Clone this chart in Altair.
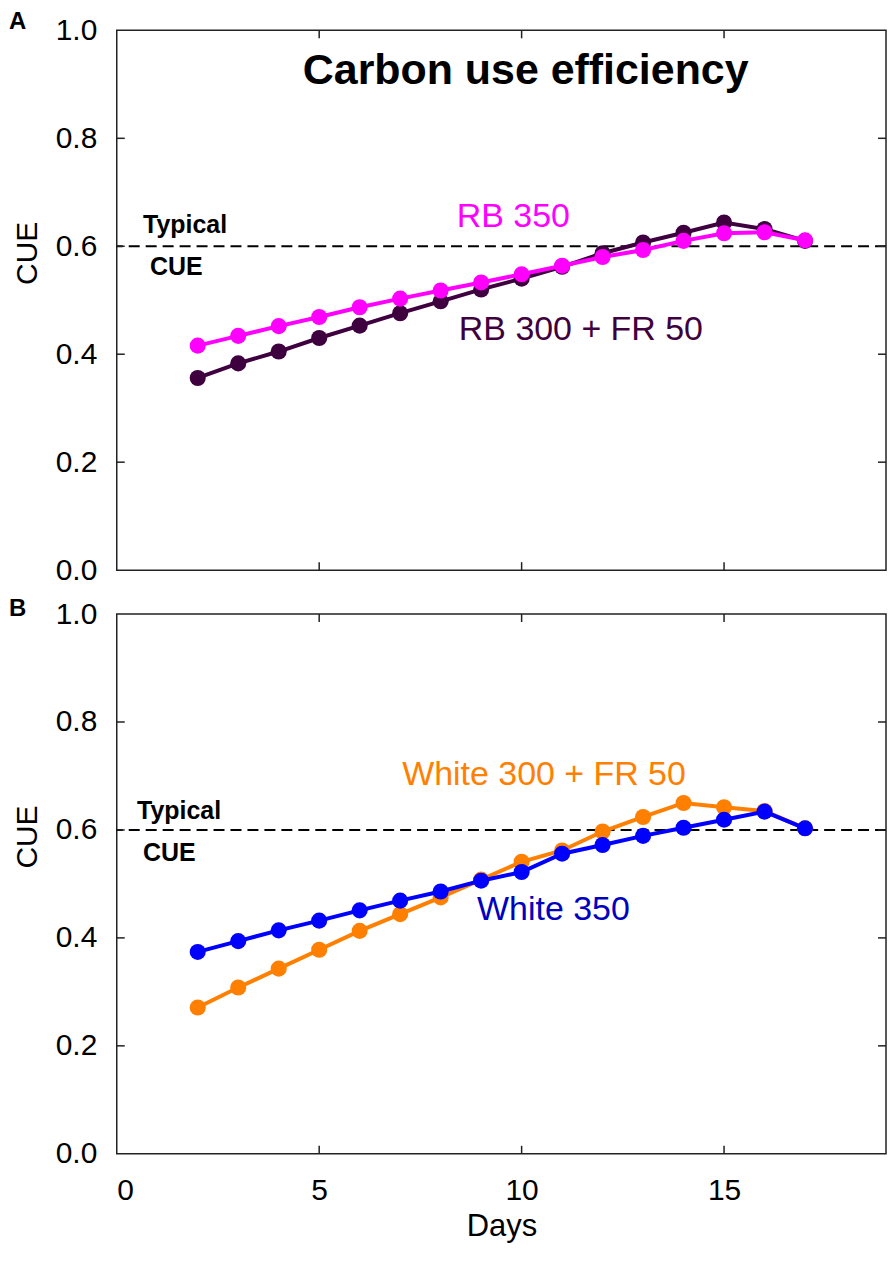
import altair as alt
import pandas as pd

# ---------------- data ----------------
days = list(range(2, 18))
rb350 = [0.416, 0.434, 0.452, 0.469, 0.487, 0.503, 0.518, 0.533, 0.548,
         0.564, 0.580, 0.593, 0.610, 0.624, 0.626, 0.611]
rb300_fr50 = [0.356, 0.383, 0.405, 0.430, 0.453, 0.476, 0.498, 0.520, 0.540,
              0.562, 0.587, 0.607, 0.625, 0.644, 0.632, 0.610]
white350 = [0.374, 0.394, 0.414, 0.432, 0.451, 0.469, 0.486, 0.506, 0.522,
            0.556, 0.572, 0.589, 0.604, 0.619, 0.634, 0.603]
white300_fr50 = [0.271, 0.308, 0.343, 0.378, 0.413, 0.444, 0.475, 0.508, 0.541,
                 0.562, 0.597, 0.624, 0.650, 0.642, 0.635, 0.603]
x_ticks = [5, 10, 15]
x_labels = [0, 5, 10, 15]
y_ticks = [0.2, 0.4, 0.6, 0.8]
y_labels = [0.0, 0.2, 0.4, 0.6, 0.8, 1.0]
typical_cue = [0.6]

FONT = "Liberation Sans"
W, H = 771, 541
LEFT = -108
TICK = 8

xs = alt.Scale(domain=[0, 19], nice=False, zero=False)
ys = alt.Scale(domain=[0, 1], nice=False)

one = pd.DataFrame({"_": [0]})

common_axis = dict(grid=False, domain=False, ticks=False, tickSize=0,
                   labelFont=FONT, titleFont=FONT, labelColor="black",
                   titleColor="black", titleFontWeight="normal")

X_AXIS_B = alt.Axis(values=x_labels, title="Days", labelFontSize=30, titleFontSize=31,
                    labelPadding=22, titleY=82, titleBaseline="alphabetic",
                    **common_axis)
Y_AXIS = alt.Axis(values=y_labels, format=".1f", title="CUE", labelFontSize=30,
                  titleFontSize=30, labelPadding=20, titleX=-80, titleY=223,
                  titleAngle=270, titleBaseline="alphabetic", titleAlign="center",
                  **common_axis)


def make_panel(x_axis, series_list, texts, letter):
    def X(field):
        return alt.X(field, scale=xs, axis=x_axis)

    def Y(field):
        return alt.Y(field, scale=ys, axis=Y_AXIS)

    layers = []
    # typical CUE dashed line
    layers.append(alt.Chart(pd.DataFrame({"v": typical_cue})).mark_rule(
        color="black", strokeDash=[11, 6], strokeWidth=2).encode(y=Y("v:Q")))
    # inside ticks on all four sides
    tx = pd.DataFrame({"t": x_ticks})
    ty = pd.DataFrame({"t": y_ticks})
    sty = dict(color="#222222", strokeWidth=1.5)
    layers += [
        alt.Chart(tx).mark_rule(**sty).encode(x=X("t:Q"), y=alt.value(H), y2=alt.value(H - TICK)),
        alt.Chart(tx).mark_rule(**sty).encode(x=X("t:Q"), y=alt.value(0), y2=alt.value(TICK)),
        alt.Chart(ty).mark_rule(**sty).encode(y=Y("t:Q"), x=alt.value(0), x2=alt.value(TICK)),
        alt.Chart(ty).mark_rule(**sty).encode(y=Y("t:Q"), x=alt.value(W), x2=alt.value(W - TICK)),
    ]
    # series
    for values, color in series_list:
        df = pd.DataFrame({"day": days, "cue": values})
        base = alt.Chart(df).encode(x=X("day:Q"), y=Y("cue:Q"))
        layers += [base.mark_line(color=color, strokeWidth=4),
                   base.mark_circle(color=color, size=260, opacity=1)]
    # annotations
    for text, xd, yd, color, size, bold, align in texts:
        layers.append(alt.Chart(one).mark_text(
            text=text, color=color, fontSize=size, font=FONT, align=align,
            baseline="alphabetic", fontWeight="bold" if bold else "normal",
        ).encode(x=alt.datum(xd), y=alt.datum(yd)))
    ltext, ly = letter
    layers.append(alt.Chart(one).mark_text(
        text=ltext, fontSize=24, font=FONT, fontWeight="bold", align="left",
        baseline="alphabetic", color="black").encode(x=alt.value(LEFT), y=alt.value(ly)))
    return alt.layer(*layers).properties(width=W, height=H)


panel_a = make_panel(
    None,
    [(rb300_fr50, "#3f0040"), (rb350, "#ff00ff")],
    [
        ("Carbon use efficiency", 10.1, 0.90, "black", 43, True, "center"),
        ("RB 350", 8.4, 0.636, "#ff00ff", 34, False, "left"),
        ("RB 300 + FR 50", 8.45, 0.427, "#3f0040", 34, False, "left"),
        ("Typical", 0.65, 0.625, "black", 25, True, "left"),
        ("CUE", 0.82, 0.547, "black", 25, True, "left"),
    ],
    ("A", -1),
)

panel_b = make_panel(
    X_AXIS_B,
    [(white300_fr50, "#ff8000"), (white350, "#0000ff")],
    [
        ("White 300 + FR 50", 7.05, 0.683, "#ff8000", 34, False, "left"),
        ("White 350", 8.9, 0.433, "#0000c0", 34, False, "left"),
        ("Typical", 0.5, 0.621, "black", 25, True, "left"),
        ("CUE", 0.65, 0.543, "black", 25, True, "left"),
    ],
    ("B", 2),
)

chart = alt.vconcat(panel_a, panel_b, spacing=44, bounds="flush").properties(
    padding=0, background="white"
).configure_view(stroke="#222222", strokeWidth=1.5)

chart.save("out.html", embed_options={"renderer": "svg", "actions": False})
